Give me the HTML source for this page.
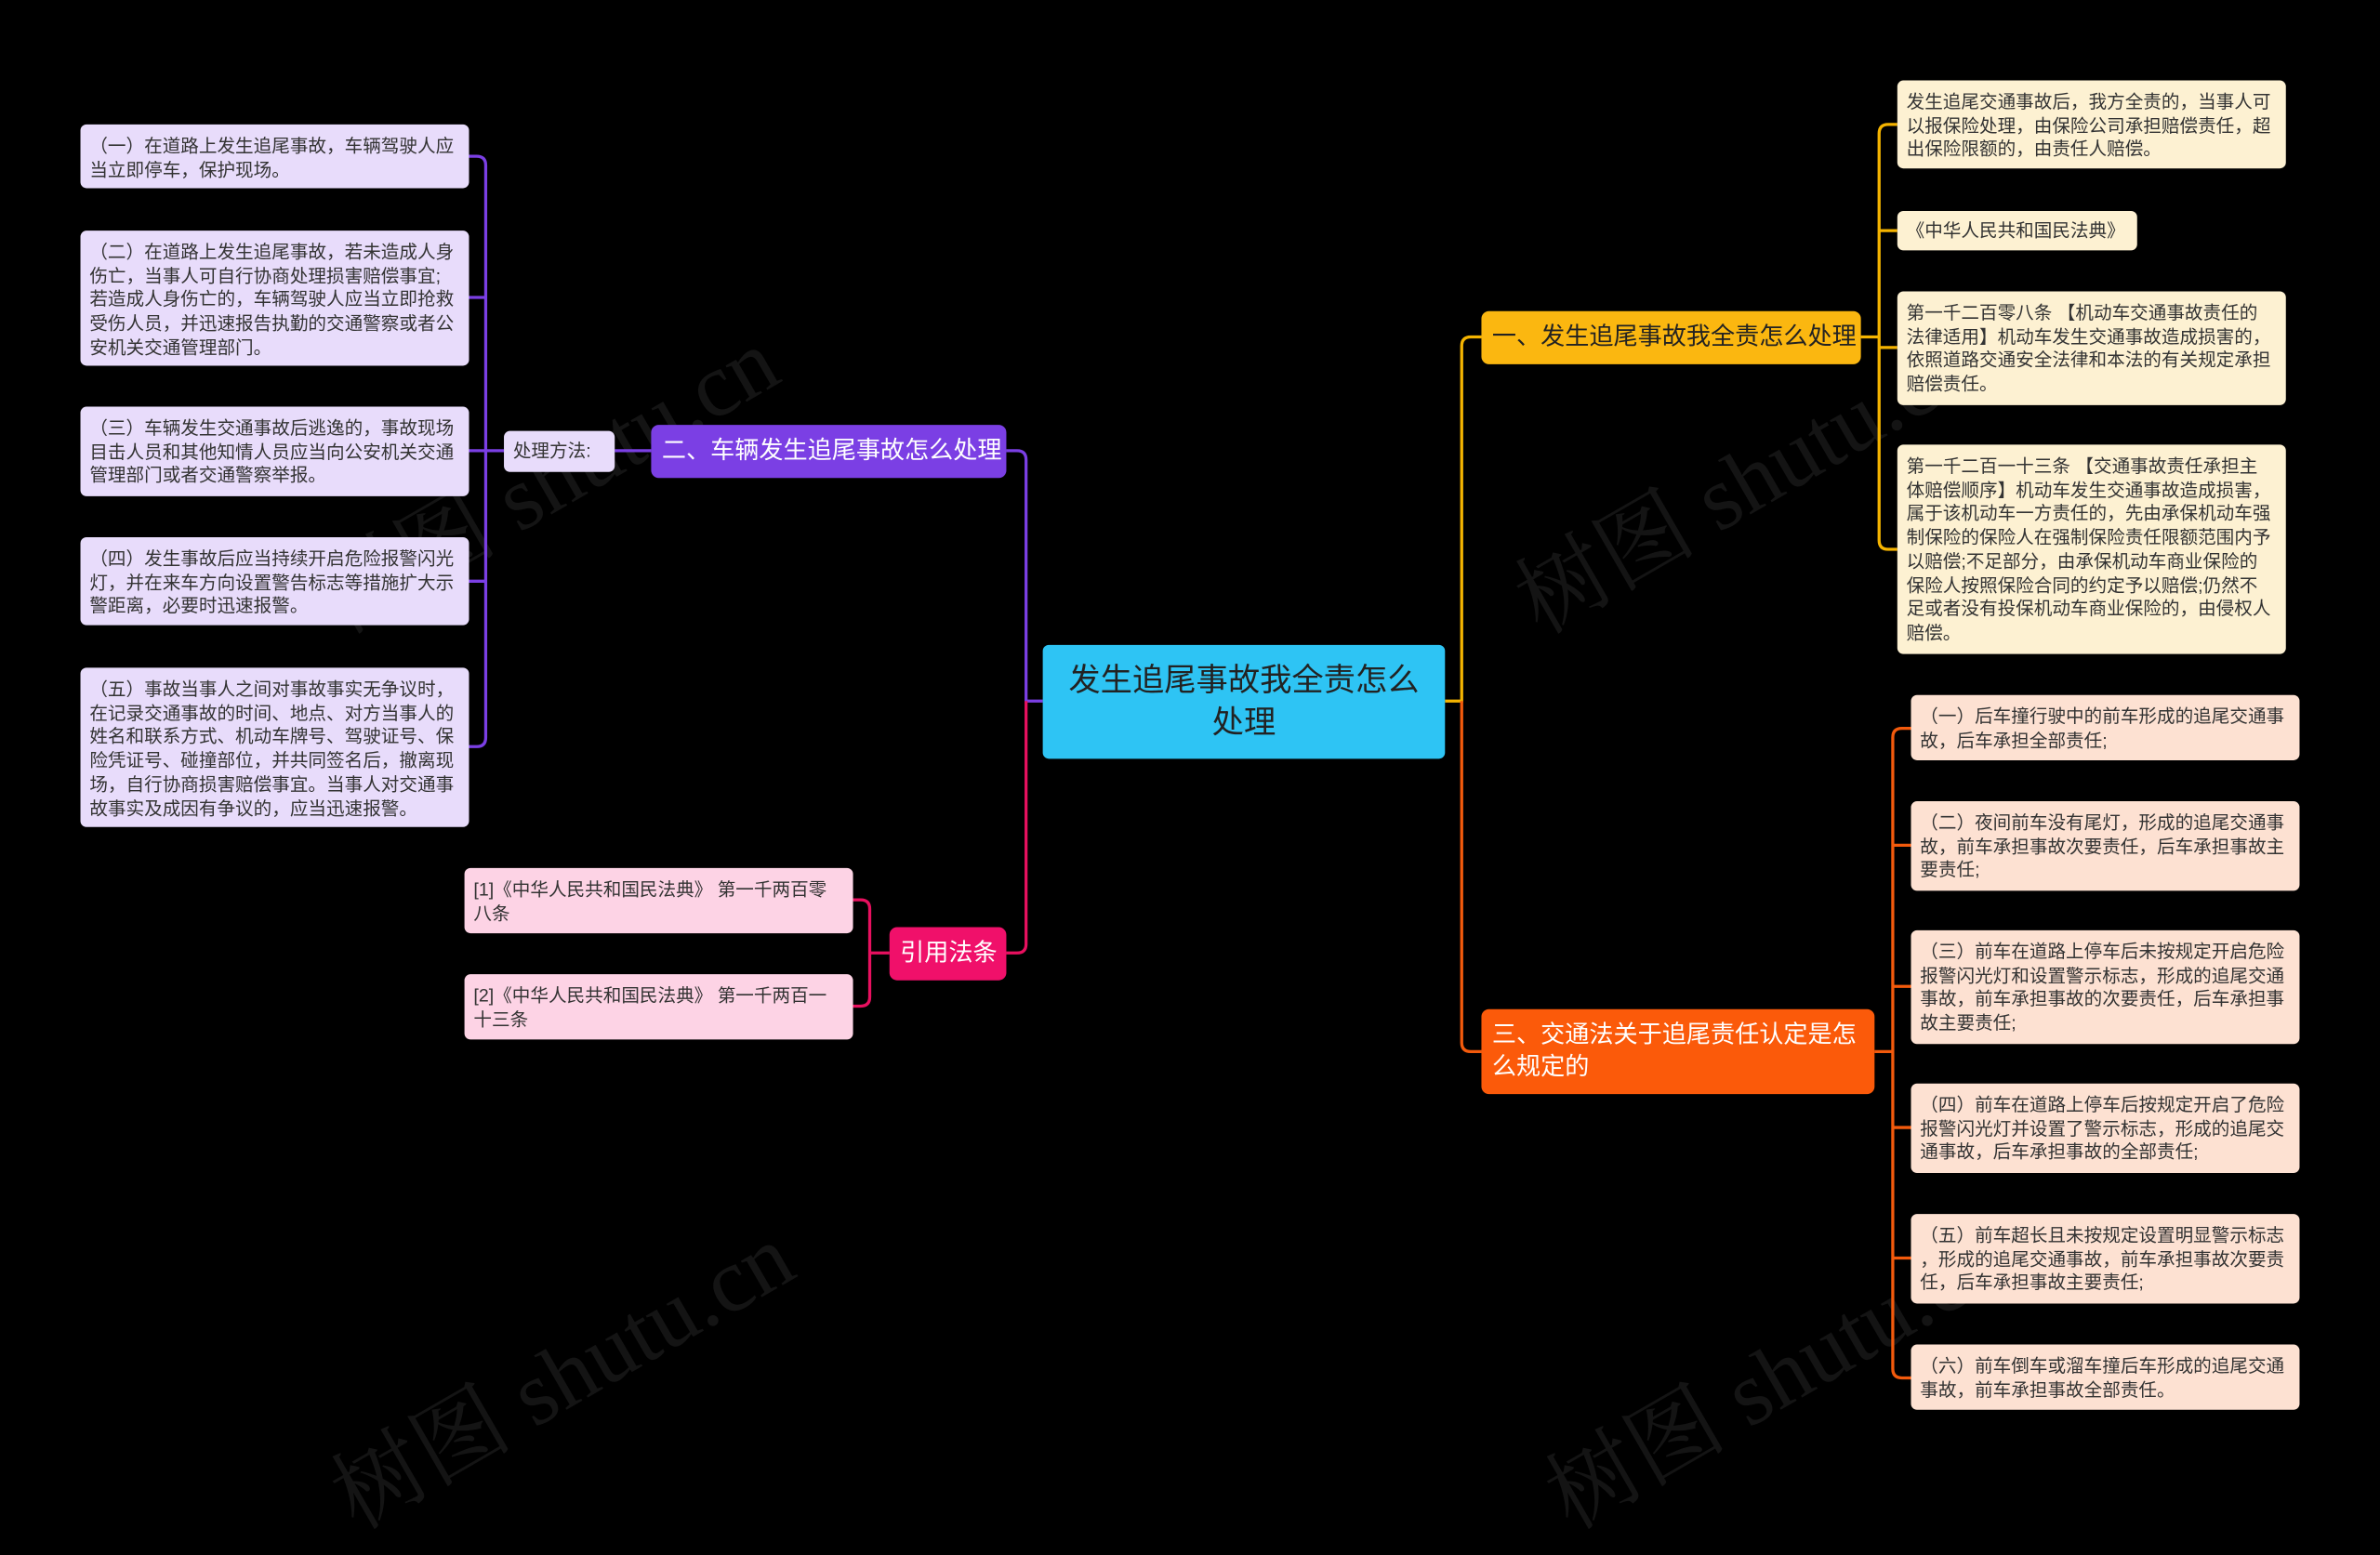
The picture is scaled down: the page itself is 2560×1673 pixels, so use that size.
<!DOCTYPE html>
<html><head><meta charset="utf-8"><style>
html,body{margin:0;padding:0;background:#000;width:2560px;height:1604px;overflow:hidden}
#w{position:absolute;left:0;top:0;width:1568px;height:982px;transform:scale(1.63265);transform-origin:0 0;font-family:"Liberation Sans","Noto Sans CJK SC",sans-serif}
.b{position:absolute;box-sizing:border-box;border-radius:4px;font-size:12px;line-height:15.7px;color:#333;padding:7px 6px 0;white-space:nowrap;overflow:hidden}
.l{background:#e8dcfb}.y{background:#fdf1d2}.o{background:#fde1d2}.p{background:#fdd3e5}
.n{position:absolute;box-sizing:border-box;border-radius:5px;font-size:16px;line-height:21px;padding:0 7px;display:flex;align-items:center;white-space:nowrap}
.wm{position:absolute;font-size:60px;color:#141414;transform:rotate(-30deg);font-family:"Liberation Serif","Noto Serif CJK SC",serif;white-space:nowrap}
</style></head><body><div id="w">
<div class="wm" style="left:190px;top:270px">树图 shutu.cn</div>
<div class="wm" style="left:980px;top:270px">树图 shutu.cn</div>
<div class="wm" style="left:200px;top:860px">树图 shutu.cn</div>
<div class="wm" style="left:1000px;top:860px">树图 shutu.cn</div>
<svg width="1568" height="982" style="position:absolute;left:0;top:0" fill="none" stroke-width="2">
<g stroke="#7b3fe4">
<path d="M332 297H320M309 103h5q6 0 6 6V486q0 6-6 6h-5M309 196h11M309 297h11M309 383h11M429 297H405"/>
<path d="M687 462H676V303q0-6-6-6h-7"/>
</g>
<g stroke="#e8105f">
<path d="M676 462V622q0 6-6 6h-7M586 628H573M562 593h5q6 0 6 6V657q0 6-6 6h-5"/>
</g>
<g stroke="#f5b400">
<path d="M952 462H963V228q0-6 6-6h7M1226 222H1238M1250 82h-6q-6 0-6 6V356q0 6 6 6h6M1238 152h12M1238 229h12"/>
</g>
<g stroke="#f35a0c">
<path d="M963 462V687q0 6 6 6h7M1235 693H1247M1259 480h-6q-6 0-6 6V902q0 6 6 6h6M1247 557h12M1247 650h12M1247 743h12M1247 829h12"/>
</g>
</svg>
<div class="b l" style="left:53px;top:82px;width:256px;height:42px">（一）在道路上发生追尾事故，车辆驾驶人应<br>当立即停车，保护现场。</div>
<div class="b l" style="left:53px;top:152px;width:256px;height:89px">（二）在道路上发生追尾事故，若未造成人身<br>伤亡，当事人可自行协商处理损害赔偿事宜;<br>若造成人身伤亡的，车辆驾驶人应当立即抢救<br>受伤人员，并迅速报告执勤的交通警察或者公<br>安机关交通管理部门。</div>
<div class="b l" style="left:53px;top:268px;width:256px;height:59px">（三）车辆发生交通事故后逃逸的，事故现场<br>目击人员和其他知情人员应当向公安机关交通<br>管理部门或者交通警察举报。</div>
<div class="b l" style="left:53px;top:354px;width:256px;height:58px">（四）发生事故后应当持续开启危险报警闪光<br>灯，并在来车方向设置警告标志等措施扩大示<br>警距离，必要时迅速报警。</div>
<div class="b l" style="left:53px;top:440px;width:256px;height:105px">（五）事故当事人之间对事故事实无争议时，<br>在记录交通事故的时间、地点、对方当事人的<br>姓名和联系方式、机动车牌号、驾驶证号、保<br>险凭证号、碰撞部位，并共同签名后，撤离现<br>场，自行协商损害赔偿事宜。当事人对交通事<br>故事实及成因有争议的，应当迅速报警。</div>
<div class="b l" style="left:332px;top:284px;width:73px;height:27px;padding-top:6px">处理方法:</div>
<div class="n" style="left:429px;top:280px;width:234px;height:35px;background:#7b3fe4;color:#fff">二、车辆发生追尾事故怎么处理</div>
<div class="n" style="left:687px;top:425px;width:265px;height:75px;background:#2ec4f4;color:#222;font-size:21px;line-height:28px;justify-content:center;text-align:center;white-space:normal;border-radius:4px">发生追尾事故我全责怎么<br>处理</div>
<div class="n" style="left:586px;top:611px;width:77px;height:35px;background:#f0106a;color:#fff">引用法条</div>
<div class="b p" style="left:306px;top:572px;width:256px;height:43px">[1]《中华人民共和国民法典》 第一千两百零<br>八条</div>
<div class="b p" style="left:306px;top:642px;width:256px;height:43px">[2]《中华人民共和国民法典》 第一千两百一<br>十三条</div>
<div class="n" style="left:976px;top:205px;width:250px;height:35px;background:#fbb710;color:#222">一、发生追尾事故我全责怎么处理</div>
<div class="b y" style="left:1250px;top:53px;width:256px;height:58px">发生追尾交通事故后，我方全责的，当事人可<br>以报保险处理，由保险公司承担赔偿责任，超<br>出保险限额的，由责任人赔偿。</div>
<div class="b y" style="left:1250px;top:139px;width:158px;height:26px;padding-top:6px">《中华人民共和国民法典》</div>
<div class="b y" style="left:1250px;top:192px;width:256px;height:75px">第一千二百零八条 【机动车交通事故责任的<br>法律适用】机动车发生交通事故造成损害的，<br>依照道路交通安全法律和本法的有关规定承担<br>赔偿责任。</div>
<div class="b y" style="left:1250px;top:293px;width:256px;height:138px">第一千二百一十三条 【交通事故责任承担主<br>体赔偿顺序】机动车发生交通事故造成损害，<br>属于该机动车一方责任的，先由承保机动车强<br>制保险的保险人在强制保险责任限额范围内予<br>以赔偿;不足部分，由承保机动车商业保险的<br>保险人按照保险合同的约定予以赔偿;仍然不<br>足或者没有投保机动车商业保险的，由侵权人<br>赔偿。</div>
<div class="n" style="left:976px;top:665px;width:259px;height:56px;background:#fb5a0a;color:#fff;white-space:normal">三、交通法关于追尾责任认定是怎<br>么规定的</div>
<div class="b o" style="left:1259px;top:458px;width:256px;height:43px">（一）后车撞行驶中的前车形成的追尾交通事<br>故，后车承担全部责任;</div>
<div class="b o" style="left:1259px;top:528px;width:256px;height:59px">（二）夜间前车没有尾灯，形成的追尾交通事<br>故，前车承担事故次要责任，后车承担事故主<br>要责任;</div>
<div class="b o" style="left:1259px;top:613px;width:256px;height:75px">（三）前车在道路上停车后未按规定开启危险<br>报警闪光灯和设置警示标志，形成的追尾交通<br>事故，前车承担事故的次要责任，后车承担事<br>故主要责任;</div>
<div class="b o" style="left:1259px;top:714px;width:256px;height:59px">（四）前车在道路上停车后按规定开启了危险<br>报警闪光灯并设置了警示标志，形成的追尾交<br>通事故，后车承担事故的全部责任;</div>
<div class="b o" style="left:1259px;top:800px;width:256px;height:59px">（五）前车超长且未按规定设置明显警示标志<br>，形成的追尾交通事故，前车承担事故次要责<br>任，后车承担事故主要责任;</div>
<div class="b o" style="left:1259px;top:886px;width:256px;height:43px">（六）前车倒车或溜车撞后车形成的追尾交通<br>事故，前车承担事故全部责任。</div>
</div></body></html>
